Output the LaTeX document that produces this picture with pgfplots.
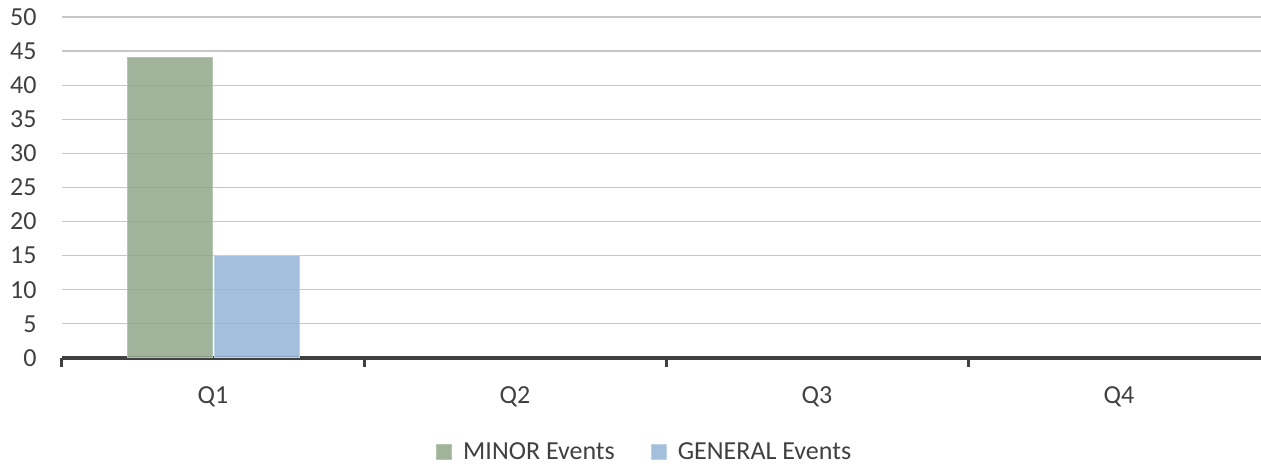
\documentclass[border=0pt]{standalone}
\usepackage{pgfplots}
\pgfplotsset{compat=1.18}
\usepackage{fontspec}
\setmainfont{Carlito}

\definecolor{minorfill}{RGB}{143,167,137}
\definecolor{minoredge}{RGB}{180,198,176}
\definecolor{generalfill}{RGB}{147,180,215}
\definecolor{generaledge}{RGB}{190,210,232}
\definecolor{axisgray}{RGB}{64,64,64}
\definecolor{textgray}{RGB}{64,64,64}

\pgfplotsset{
  sq legend/.style={legend image code/.code={
      \fill[##1] (0pt,-7.5pt) rectangle (15pt,7.5pt);}},
}

\begin{document}
\begin{tikzpicture}
\useasboundingbox (-62pt,-110pt) rectangle (1199pt,358pt);
\begin{axis}[
    scale only axis,
    width=1199pt, height=341pt,
    at={(0,0)}, anchor=south west,
    ybar=2pt, bar width=85pt,
    xmin=-0.5, xmax=3.47,
    ymin=0, ymax=50,
    ytick={0,5,...,50},
    % category borders carry the tick marks, category centres the names
    xtick={-0.5,0.5,1.5,2.5},
    xticklabels={},
    every major x tick/.append style={draw=axisgray, line width=3pt},
    tick align=outside,
    major tick length=9pt,
    extra x ticks={0,1,2,3},
    extra x tick labels={Q1,Q2,Q3,Q4},
    extra x tick style={grid=none, major tick length=0pt},
    ytick style={draw=none},
    ymajorgrids,
    grid style={draw=black!22, line width=1.2pt},
    axis x line*=bottom,
    axis y line*=left,
    x axis line style={-, draw=axisgray, line width=4pt},
    y axis line style={draw=none},
    /pgf/number format/assume math mode=true,
    tick label style={font=\fontsize{26}{30}\selectfont, text=textgray},
    yticklabel style={xshift=-13pt},
    xticklabel style={anchor=base, yshift=-46pt},
    unbounded coords=discard,
    legend style={at={(0.486,-0.276)}, anchor=center, draw=none,
      legend columns=2, font=\fontsize{26}{30}\selectfont, text=textgray,
      /tikz/every odd column/.append style={column sep=9pt},
      /tikz/every even column/.append style={column sep=34pt}},
  ]
  \addplot[fill=minorfill, fill opacity=0.85, draw=minoredge, line width=1pt, sq legend,
    y filter/.expression={y==0 ? nan : y}]
    coordinates {(0,44) (1,0) (2,0) (3,0)};
  \addplot[fill=generalfill, fill opacity=0.85, draw=generaledge, line width=1pt, sq legend,
    y filter/.expression={y==0 ? nan : y}]
    coordinates {(0,15) (1,0) (2,0) (3,0)};
  \legend{MINOR Events, GENERAL Events}
\end{axis}
\end{tikzpicture}
\end{document}
